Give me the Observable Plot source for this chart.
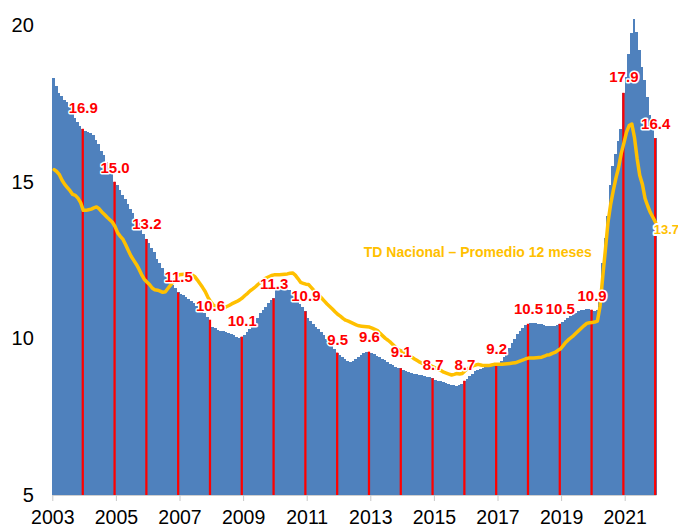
<!DOCTYPE html>
<html><head><meta charset="utf-8">
<script src="https://cdn.jsdelivr.net/npm/d3@7"></script>
<script src="https://cdn.jsdelivr.net/npm/@observablehq/plot@0.6"></script>
<style>body{margin:0;background:#fff}</style>
</head><body><div id="chart"></div>
<script>
// Monthly values Jan 2003 – Dec 2021
const barValues = [
  18.31,18.07,17.84,17.75,17.62,17.56,17.40,17.20,17.04,16.92,16.79,16.70,
  16.62,16.60,16.58,16.50,16.35,16.20,16.00,15.85,15.65,15.45,15.25,15.01,
  14.90,14.75,14.60,14.45,14.30,14.15,14.00,13.85,13.70,13.50,13.35,13.18,
  13.05,12.90,12.75,12.55,12.40,12.25,12.10,11.95,11.80,11.70,11.60,11.47,
  11.42,11.38,11.33,11.27,11.20,11.12,11.05,10.98,10.90,10.80,10.70,10.60,
  10.38,10.33,10.28,10.25,10.23,10.20,10.18,10.15,10.10,10.05,10.03,10.06,
  10.12,10.20,10.30,10.40,10.50,10.65,10.80,10.90,11.02,11.12,11.22,11.28,
  11.60,11.63,11.62,11.60,11.58,11.55,11.45,11.35,11.22,11.10,11.00,10.87,
  10.65,10.55,10.45,10.38,10.30,10.20,10.10,10.00,9.90,9.78,9.66,9.55,
  9.48,9.40,9.33,9.28,9.26,9.28,9.33,9.40,9.47,9.53,9.57,9.58,
  9.55,9.50,9.45,9.40,9.35,9.30,9.25,9.20,9.15,9.10,9.07,9.05,
  8.98,8.95,8.93,8.90,8.88,8.86,8.84,8.82,8.80,8.78,8.76,8.73,
  8.68,8.65,8.63,8.60,8.58,8.55,8.52,8.50,8.48,8.50,8.55,8.65,
  8.72,8.80,8.88,8.95,9.00,9.03,9.06,9.08,9.10,9.12,9.14,9.17,
  9.22,9.28,9.40,9.55,9.70,9.85,10.00,10.15,10.25,10.35,10.42,10.47,
  10.50,10.50,10.49,10.47,10.45,10.43,10.41,10.40,10.39,10.40,10.43,10.47,
  10.52,10.58,10.65,10.72,10.78,10.83,10.87,10.90,10.92,10.93,10.93,10.92,
  10.87,10.90,11.20,12.40,13.20,13.90,14.90,15.50,15.90,16.30,16.70,17.85,
  18.36,19.10,19.75,20.20,19.80,19.22,18.68,18.26,17.73,17.14,16.77,16.40
];
const avgValues = [
  15.41,15.35,15.25,15.07,14.94,14.84,14.74,14.62,14.59,14.50,14.36,14.11,
  14.11,14.13,14.15,14.19,14.22,14.16,14.06,13.98,13.89,13.81,13.73,13.59,
  13.39,13.28,13.18,13.01,12.83,12.65,12.52,12.39,12.24,12.06,11.91,11.82,
  11.74,11.63,11.57,11.56,11.53,11.49,11.51,11.62,11.73,11.84,11.94,12.05,
  12.06,12.07,12.08,12.08,12.05,12.00,11.89,11.77,11.65,11.52,11.34,11.20,
  11.09,11.03,10.99,10.97,11.00,11.03,11.07,11.12,11.16,11.20,11.25,11.31,
  11.39,11.46,11.54,11.60,11.67,11.75,11.82,11.89,11.95,11.99,12.03,12.05,
  12.05,12.05,12.06,12.07,12.08,12.10,12.11,12.04,11.93,11.81,11.78,11.75,
  11.74,11.65,11.55,11.47,11.39,11.30,11.21,11.12,11.04,10.96,10.87,10.79,
  10.73,10.66,10.60,10.57,10.53,10.49,10.45,10.42,10.41,10.40,10.39,10.38,
  10.35,10.31,10.27,10.18,10.10,10.02,9.96,9.89,9.81,9.72,9.65,9.62,
  9.58,9.52,9.47,9.42,9.36,9.31,9.26,9.22,9.20,9.18,9.15,9.11,
  9.07,9.03,8.99,8.94,8.91,8.88,8.85,8.87,8.90,8.88,8.90,8.98,
  9.05,9.09,9.14,9.17,9.19,9.17,9.15,9.15,9.15,9.17,9.19,9.19,
  9.19,9.19,9.20,9.21,9.22,9.23,9.24,9.27,9.30,9.33,9.37,9.39,
  9.39,9.39,9.40,9.41,9.42,9.45,9.49,9.50,9.54,9.57,9.63,9.68,
  9.78,9.89,9.97,10.04,10.11,10.19,10.27,10.35,10.43,10.50,10.52,10.53,
  10.54,10.57,11.04,11.97,12.83,13.72,14.30,14.74,15.14,15.48,15.93,16.26,
  16.61,16.82,16.87,16.44,15.77,15.22,14.94,14.49,14.25,14.04,13.88,13.72
];
// December labels 2003 – 2021
const decLabels = [16.9,15.0,13.2,11.5,10.6,10.1,11.3,10.9,9.5,9.6,9.1,8.7,8.7,9.2,10.5,10.5,10.9,17.9,16.4];
const xTicks = [2003,2005,2007,2009,2011,2013,2015,2017,2019,2021];
const yTicks = [5,10,15,20];
const legendLabel = "TD Nacional – Promedio 12 meses";

const startYear = 2003;
const months = barValues.map((v, i) => ({
  year: startYear + Math.floor(i / 12), m: i % 12, v, avg: avgValues[i]
}));
const decs = months.filter(d => d.m === 11).map((d, k) => ({...d, label: decLabels[k]}));
const last = months[months.length - 1];

const x1 = d => d.year + d.m / 12;
const x2 = d => d.year + (d.m + 1) / 12;
const xc = d => d.year + (d.m + 0.5) / 12;

const chart = Plot.plot({
  width: 678, height: 529,
  marginLeft: 52.3, marginRight: 21.5, marginTop: 25.5, marginBottom: 34,
  style: {fontFamily: "'Liberation Sans', Arial, sans-serif", background: "#fff", color: "#000"},
  x: {domain: [2003, 2022]},
  y: {domain: [5, 20]},
  marks: [
    Plot.rect(months, {x1, x2, y1: () => 5, y2: "v", fill: "#4F81BD", shapeRendering: "crispEdges"}),
    Plot.rect(decs, {x1, x2, y1: () => 5, y2: "v", fill: "#FF0000", insetLeft: 0.2, insetRight: 0.2}),
    Plot.ruleY([5], {stroke: "#d0d0d0"}),
    Plot.axisX({ticks: xTicks, tickFormat: d => String(d), tickSize: 6, tickPadding: 8.5, fontSize: 19.5, stroke: "#c8c8c8", fill: "#000"}),
    Plot.axisY({ticks: yTicks, tickSize: 0, tickPadding: 19, fontSize: 20, fill: "#000"}),
    Plot.line(months, {x: xc, y: "avg", stroke: "#FFC000", strokeWidth: 3.5}),
    Plot.text(decs, {x: xc, y: "label", text: d => d.label.toFixed(1), dy: -14.5, fill: "#FF0000", stroke: "white", strokeWidth: 3, fontWeight: "bold", fontSize: 15}),
    Plot.text([last], {x: xc, y: "avg", text: d => d.avg.toFixed(1), textAnchor: "start", dx: -2, dy: 7, fill: "#FFC000", stroke: "white", strokeWidth: 4, fontWeight: "bold", fontSize: 13}),
    Plot.text([legendLabel], {frameAnchor: "top-left", textAnchor: "start", lineAnchor: "middle", dx: 311, dy: 226.5, text: d => d, fill: "#FFC000", fontWeight: "bold", fontSize: 14})
  ]
});
document.getElementById("chart").appendChild(chart);
</script>
</body></html>
